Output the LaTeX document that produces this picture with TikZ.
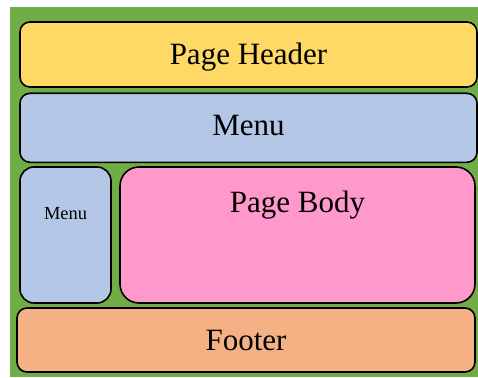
\documentclass[tikz,border=0pt]{standalone}
\usepackage{fontspec}
\setmainfont{Liberation Serif}
\definecolor{pagegreen}{HTML}{70AD47}
\definecolor{headeryellow}{HTML}{FFD966}
\definecolor{menublue}{HTML}{B4C7E7}
\definecolor{bodypink}{HTML}{FF99CC}
\definecolor{footerorange}{HTML}{F4B183}
\begin{document}
\begin{tikzpicture}[x=1pt,y=-1pt,
pagebox/.style={draw,rectangle,rounded corners=10pt,inner sep=0pt,line width=1.6pt,text height=20.5pt,text depth=0pt,font=\fontsize{31}{36}\selectfont},
sidebox/.style={pagebox,rounded corners=14pt},
bodybox/.style={pagebox,rounded corners=19pt},
bigtext/.style={font=\fontsize{31}{36}\selectfont,inner sep=0pt},
smalltext/.style={font=\fontsize{18.4}{22}\selectfont,inner sep=0pt}]

\useasboundingbox (0,0) rectangle (478,377);
\fill[pagegreen] (10,7) rectangle (478,377);

\draw (248.5,54.5) node[pagebox,fill=headeryellow,minimum width=457pt,minimum height=65pt] (header) {Page Header};
\draw (248.5,127.8) node[pagebox,fill=menublue,minimum width=457pt,minimum height=69pt,text depth=6pt] (menu) {Menu};
\draw (65.5,235) node[sidebox,fill=menublue,minimum width=91pt,minimum height=136pt,
  label={[smalltext,anchor=base,yshift=-53pt]north:Menu}] (sidemenu) {};
\draw (297.5,235) node[bodybox,fill=bodypink,minimum width=355pt,minimum height=136pt,
  label={[bigtext,anchor=base,yshift=-46pt]north:Page Body}] (body) {};
\draw (246,340) node[pagebox,fill=footerorange,minimum width=458pt,minimum height=64pt] (footer) {Footer};
\end{tikzpicture}
\end{document}
